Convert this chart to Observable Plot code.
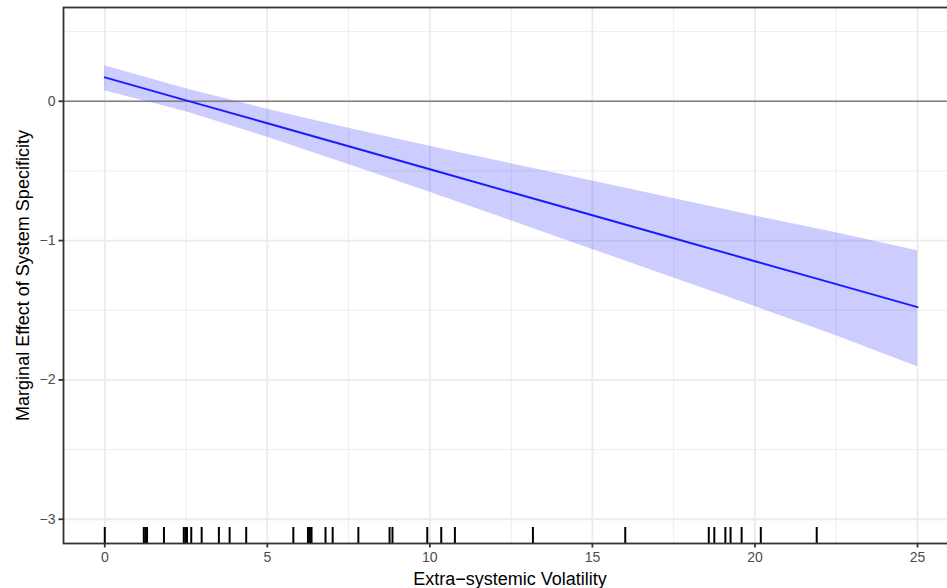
<!DOCTYPE html>
<html><head><meta charset="utf-8">
<script src="https://cdn.jsdelivr.net/npm/d3@7"></script>
<script src="https://cdn.jsdelivr.net/npm/@observablehq/plot@0.6"></script>
<style>
body{margin:0;background:#fff}
#chart svg{font-family:"Liberation Sans",Arial,Helvetica,sans-serif;background:#fff}
</style>
</head><body><div id="chart"></div>
<script>
// Extra-systemic volatility values where the marginal effect was evaluated
const xValues = [0, 2.5, 5, 7.5, 10, 12.5, 15, 17.5, 20, 22.5, 25];
// Marginal effect estimate and 95% band
const estimate = [0.172, 0.007, -0.158, -0.323, -0.488, -0.653, -0.818, -0.983, -1.148, -1.313, -1.478];
const lower    = [0.075, -0.075, -0.258, -0.453, -0.653, -0.858, -1.063, -1.268, -1.473, -1.683, -1.905];
const upper    = [0.255, 0.090, -0.058, -0.193, -0.323, -0.448, -0.573, -0.698, -0.823, -0.943, -1.073];
// Rug (observed values of the moderator)
const rug = [0, 1.20, 1.25, 1.30, 1.82, 2.43, 2.48, 2.53, 2.66, 2.98, 3.51, 3.84, 4.35,
             5.80, 6.25, 6.31, 6.36, 6.79, 7.01, 7.80, 8.76, 8.85, 9.92, 10.35, 10.77,
             13.17, 16.01, 18.58, 18.75, 19.09, 19.25, 19.59, 20.18, 21.90];
// Ticks
const xMajor = [0, 5, 10, 15, 20, 25];
const xMinor = [2.5, 7.5, 12.5, 17.5, 22.5];
const yMajor = [0, -1, -2, -3];
const yMinor = [0.5, -0.5, -1.5, -2.5];
const xTitle = "Extra\u2212systemic Volatility";
const yTitle = "Marginal Effect of System Specificity";

const band = xValues.map((x, i) => ({x, est: estimate[i], lo: lower[i], hi: upper[i]}));
const fmt = d3.format("d");

const chart = Plot.plot({
  width: 947,
  height: 588,
  marginTop: 7,
  marginBottom: 45,
  marginLeft: 63,
  marginRight: -9,
  style: {fontFamily: '"Liberation Sans", Arial, Helvetica, sans-serif', fontSize: "14px", background: "white", overflow: "hidden"},
  x: {domain: [-1.27, 26.2]},
  y: {domain: [-3.174, 0.673]},
  marks: [
    Plot.ruleX(xMinor, {stroke: "#ebebeb", strokeWidth: 0.9}),
    Plot.ruleY(yMinor, {stroke: "#ebebeb", strokeWidth: 0.9}),
    Plot.ruleX(xMajor, {stroke: "#ebebeb", strokeWidth: 1.8}),
    Plot.ruleY(yMajor, {stroke: "#ebebeb", strokeWidth: 1.8}),
    Plot.areaY(band, {x: "x", y1: "lo", y2: "hi", fill: "blue", fillOpacity: 0.2}),
    Plot.ruleY([0], {stroke: "#7f7f7f", strokeWidth: 1.5}),
    Plot.lineY(band, {x: "x", y: "est", stroke: "#1a1aff", strokeWidth: 1.9}),
    Plot.ruleX(rug, {x: d => d, insetTop: 520, stroke: "black", strokeWidth: 2}),
    Plot.axisX({ticks: xMajor, tickFormat: fmt, tickSize: 4.5, tickPadding: 4, fontSize: 14, stroke: "#333", fill: "#4d4d4d", strokeWidth: 1.8, label: null}),
    Plot.axisY({ticks: yMajor, tickFormat: fmt, tickSize: 4.5, tickPadding: 3.5, fontSize: 14, stroke: "#333", fill: "#4d4d4d", strokeWidth: 1.8, label: null}),
    Plot.frame({stroke: "#333", strokeWidth: 1.8}),
    Plot.text([xTitle], {text: d => d, frameAnchor: "bottom", textAnchor: "middle", lineAnchor: "middle", dy: 36, fontSize: 18, fill: "black"}),
    Plot.text([yTitle], {text: d => d, frameAnchor: "left", textAnchor: "middle", lineAnchor: "middle", dx: -40, rotate: -90, fontSize: 18, fill: "black"})
  ]
});
document.getElementById("chart").appendChild(chart);
</script>
</body></html>
